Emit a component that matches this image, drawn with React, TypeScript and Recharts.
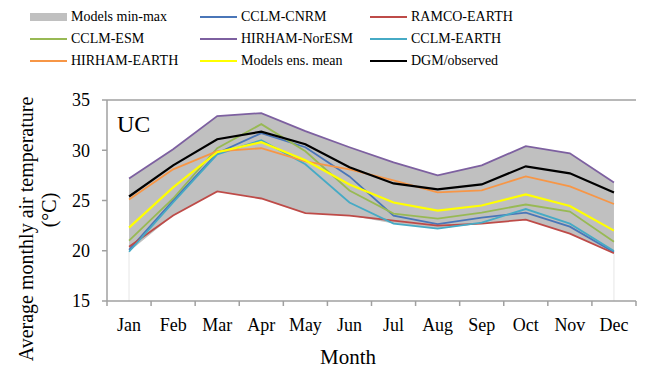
import { ComposedChart, Line, Area, XAxis, YAxis, ReferenceLine, Legend, Customized } from 'recharts';

const MONTHS = ['Jan', 'Feb', 'Mar', 'Apr', 'May', 'Jun', 'Jul', 'Aug', 'Sep', 'Oct', 'Nov', 'Dec'];
const Y_TICKS = [15, 20, 25, 30, 35];

const CCLM_CNRM = [20.1, 25.0, 29.7, 31.7, 30.3, 27.4, 23.5, 22.65, 23.3, 23.8, 22.4, 19.85];
const RAMCO_EARTH = [20.4, 23.5, 25.9, 25.2, 23.75, 23.5, 23.0, 22.5, 22.7, 23.1, 21.7, 19.75];
const CCLM_ESM = [21.0, 25.2, 30.2, 32.6, 29.9, 26.0, 23.7, 23.2, 23.8, 24.6, 23.9, 20.9];
const HIRHAM_NORESM = [27.2, 30.1, 33.4, 33.7, 31.9, 30.3, 28.8, 27.5, 28.5, 30.4, 29.7, 26.8];
const CCLM_EARTH = [19.9, 24.8, 29.6, 31.0, 28.6, 24.8, 22.7, 22.2, 22.8, 24.15, 22.7, 19.97];
const HIRHAM_EARTH = [25.1, 28.1, 29.9, 30.2, 28.9, 28.1, 27.0, 25.8, 26.0, 27.4, 26.4, 24.65];
const ENS_MEAN = [22.3, 26.3, 29.8, 30.8, 29.0, 26.6, 24.8, 24.0, 24.5, 25.6, 24.45, 22.0];
const OBSERVED = [25.4, 28.5, 31.1, 31.85, 30.6, 28.3, 26.7, 26.1, 26.6, 28.4, 27.7, 25.8];

const SERIES = [
  { key: 'cnrm', name: 'CCLM-CNRM', color: '#4a76b8', values: CCLM_CNRM, model: true },
  { key: 'ramco', name: 'RAMCO-EARTH', color: '#be4b48', values: RAMCO_EARTH, model: true },
  { key: 'esm', name: 'CCLM-ESM', color: '#98b954', values: CCLM_ESM, model: true },
  { key: 'noresm', name: 'HIRHAM-NorESM', color: '#7d60a0', values: HIRHAM_NORESM, model: true },
  { key: 'earth', name: 'CCLM-EARTH', color: '#46aac5', values: CCLM_EARTH, model: true },
  { key: 'hirearth', name: 'HIRHAM-EARTH', color: '#f79646', values: HIRHAM_EARTH, model: true },
  { key: 'mean', name: 'Models ens. mean', color: '#ffff00', values: ENS_MEAN, model: false },
  { key: 'obs', name: 'DGM/observed', color: '#000000', values: OBSERVED, model: false },
];

const AREA_COLOR = '#c0c0c0';
const AXIS_COLOR = '#a0a0a0';
const FONT = '"Liberation Serif", "Times New Roman", serif';

const LEGEND_ORDER = ['range', 'cnrm', 'ramco', 'esm', 'noresm', 'earth', 'hirearth', 'mean', 'obs'];

const data = MONTHS.map((m, i) => {
  const row: any = { month: m };
  const modelVals: number[] = [];
  SERIES.forEach((s) => {
    row[s.key] = s.values[i];
    if (s.model) modelVals.push(s.values[i]);
  });
  row.min = Math.min(...modelVals);
  row.max = Math.max(...modelVals);
  return row;
});

const PLOT_W = 651 - 107 - 15;
const BAND = PLOT_W / MONTHS.length;

function MonthTick(props: any) {
  const { x, y, payload, index } = props;
  const axisY = y - 17;
  return (
    <g>
      <line x1={x - BAND / 2} y1={axisY} x2={x - BAND / 2} y2={axisY + 5} stroke={AXIS_COLOR} strokeWidth={1.5} />
      {index === MONTHS.length - 1 && (
        <line x1={x + BAND / 2} y1={axisY} x2={x + BAND / 2} y2={axisY + 5} stroke={AXIS_COLOR} strokeWidth={1.5} />
      )}
      <text x={x} y={y} dy="0.71em" textAnchor="middle" fontSize={18} fontFamily={FONT} fill="#000">
        {payload.value}
      </text>
    </g>
  );
}

function LegendGrid() {
  return (
    <div
      style={{
        display: 'grid',
        gridTemplateColumns: '170px 170px 170px',
        gridAutoRows: '22px',
        paddingLeft: 30,
        fontFamily: FONT,
        fontSize: 14,
        color: '#000',
      }}
    >
      {LEGEND_ORDER.map((k) => {
        const s = SERIES.find((x) => x.key === k);
        return (
          <div key={k} style={{ display: 'flex', alignItems: 'center', whiteSpace: 'nowrap' }}>
            {s ? (
              <span style={{ display: 'inline-block', width: 37, height: 2, background: s.color, marginRight: 4 }} />
            ) : (
              <span style={{ display: 'inline-block', width: 37, height: 8, background: AREA_COLOR, marginRight: 4 }} />
            )}
            <span>{s ? s.name : 'Models min-max'}</span>
          </div>
        );
      })}
    </div>
  );
}

function Labels() {
  return (
    <g fontFamily={FONT} fill="#000">
      <text transform="translate(33,229) rotate(-90)" textAnchor="middle" fontSize={20}>
        Average monthly air temperature
      </text>
      <text transform="translate(56,210) rotate(-90)" textAnchor="middle" fontSize={20}>
        (°C)
      </text>
      <text x={348} y={364} textAnchor="middle" fontSize={21}>
        Month
      </text>
      <text x={117} y={132} fontSize={24}>
        UC
      </text>
    </g>
  );
}

export default function App() {
  return (
    <div style={{ position: 'absolute', left: 0, top: 0, background: '#fff' }}>
      <ComposedChart width={651} height={371} data={data} margin={{ top: 100, right: 15, bottom: 40, left: 0 }}>
        <XAxis
          dataKey="month"
          scale="band"
          height={30}
          axisLine={{ stroke: AXIS_COLOR, strokeWidth: 1.5 }}
          tickLine={false}
          tickSize={5}
          tickMargin={12}
          tick={<MonthTick />}
          interval={0}
        />
        <YAxis
          domain={[15, 35]}
          ticks={Y_TICKS}
          width={107}
          axisLine={{ stroke: AXIS_COLOR, strokeWidth: 1.5 }}
          tickLine={{ stroke: AXIS_COLOR, strokeWidth: 1.5 }}
          tickSize={5}
          tickMargin={12}
          tick={{ fontSize: 18, fontFamily: FONT, fill: '#000' }}
        />
        <YAxis
          yAxisId="r"
          orientation="right"
          domain={[15, 35]}
          width={0}
          tick={false}
          tickLine={false}
          axisLine={{ stroke: AXIS_COLOR, strokeWidth: 1.5 }}
        />
        <ReferenceLine y={35} stroke={AXIS_COLOR} strokeWidth={1.5} />
        <ReferenceLine
          segment={[{ x: MONTHS[0], y: 15 }, { x: MONTHS[0], y: data[0].min }]}
          stroke="#e6e6e6"
        />
        <ReferenceLine
          segment={[{ x: MONTHS[11], y: 15 }, { x: MONTHS[11], y: data[11].min }]}
          stroke="#e6e6e6"
        />
        <Legend
          layout="vertical"
          align="center"
          verticalAlign="middle"
          content={<LegendGrid />}
          wrapperStyle={{ top: 6, left: 0, width: 651, height: 70 }}
        />
        <Area
          dataKey={(d: any) => [d.min, d.max]}
          fill={AREA_COLOR}
          fillOpacity={1}
          stroke="none"
          isAnimationActive={false}
          legendType="none"
        />
        {SERIES.map((s) => (
          <Line
            key={s.key}
            dataKey={s.key}
            name={s.name}
            stroke={s.color}
            strokeWidth={s.key === 'obs' || s.key === 'mean' ? 2.2 : 1.8}
            dot={false}
            activeDot={false}
            isAnimationActive={false}
          />
        ))}
        <Customized component={Labels} />
      </ComposedChart>
    </div>
  );
}
